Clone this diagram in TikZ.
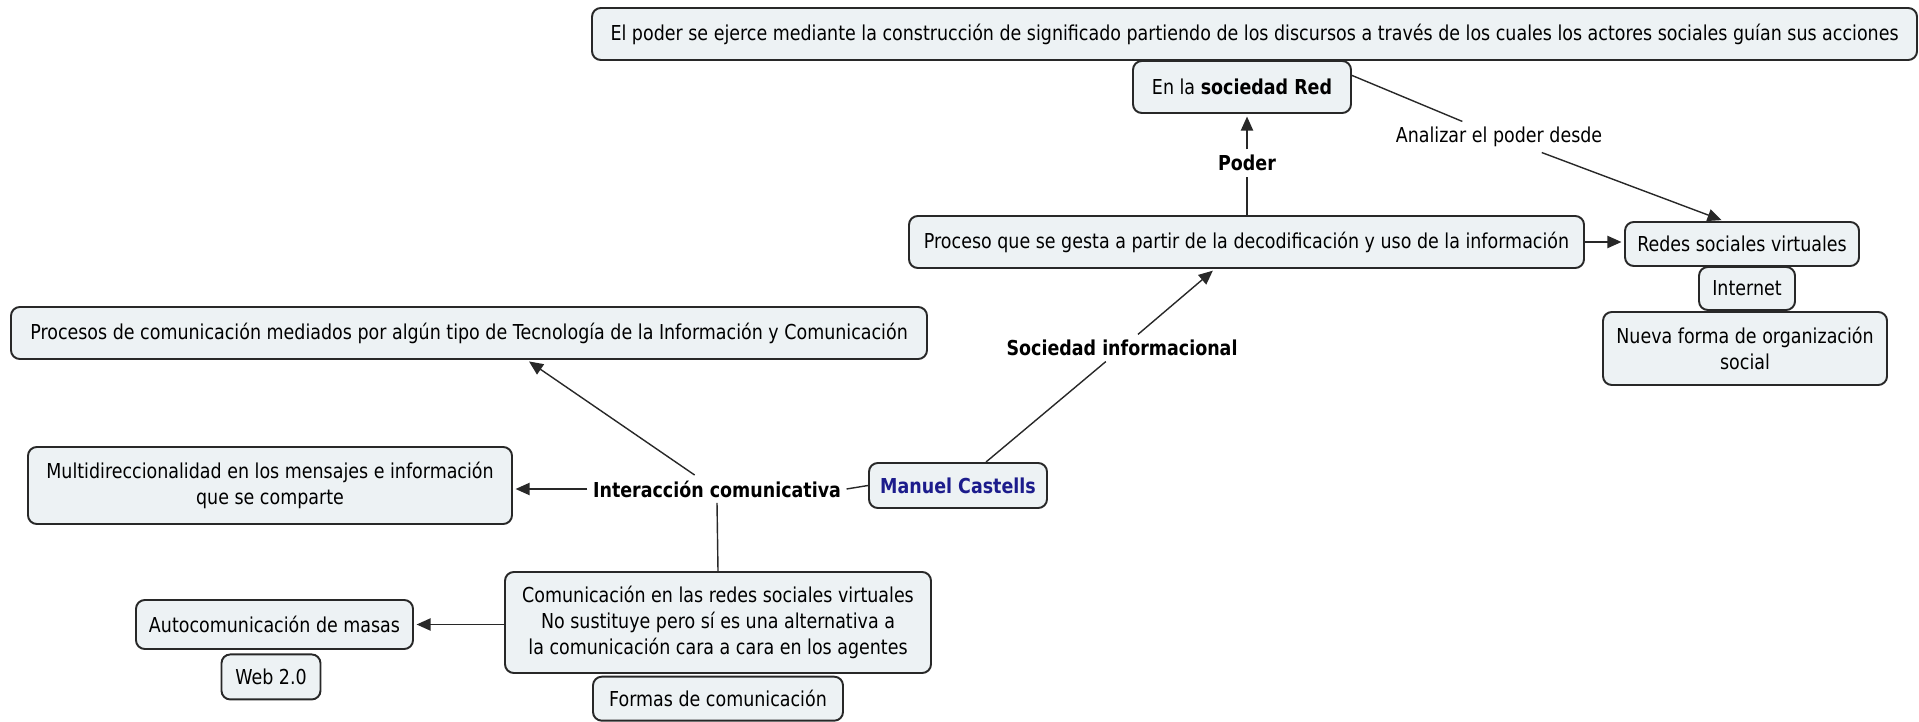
\documentclass[tikz,border=0pt]{standalone}
\usepackage{fontspec}
\setmainfont{DejaVu Sans}[FakeStretch=0.85]
\usetikzlibrary{positioning, fit}
\usetikzlibrary{calc}
\usetikzlibrary{arrows, arrows.meta}
\definecolor{fondo}{RGB}{237,242,244}
\definecolor{borde}{RGB}{40,40,40}
\definecolor{azul}{RGB}{28,28,140}
\tikzset{myarrow/.style={-{Triangle[length=8pt, width=7pt]}, shorten >=1.5pt}}
\tikzset{myline/.style={draw=borde, line width=0.8pt}}
\tikzset{texto/.style={font=\fontsize{11.7}{15}\selectfont}}
\tikzset{concepto/.style={texto, inner sep=0pt, draw=borde, line width=1.1pt, fill=fondo, rounded corners=5pt, align=center}}
\tikzset{caja/.style 2 args={minimum width=#1*0.02cm, minimum height=#2*0.02cm}}
\tikzset{etiqueta/.style={texto, inner sep=3pt}}

\begin{document}
\begin{tikzpicture}[x=0.02cm, y=-0.02cm]
		\useasboundingbox (0,0) rectangle (1919,722);
		
		% PODER
		\node[concepto, caja={1325}{52}] (ejerce) at (1254.5,34) {El poder se ejerce mediante la construcción de significado partiendo de los discursos a través de los cuales los actores sociales guían sus acciones};
		\node[concepto, caja={218}{52}] (red) at (1242,87) {En la \textbf{sociedad Red}};
		\node[concepto, caja={675}{52}] (proceso) at (1246.5,242) {Proceso que se gesta a partir de la decodificación y uso de la información};
		\node[etiqueta] (PoderText) at (1247,163) {\textbf{Poder}};
		
		\draw[myline]          (proceso.north -| PoderText) -- (PoderText);
		\draw[myline, myarrow] (PoderText) -- (PoderText |- red.south);
		
		% REDES
		\node[concepto, caja={234}{44}] (redes) at (1742,244) {Redes sociales virtuales};
		\node[concepto, caja={96}{43}] (internet) at (1747,288.5) {Internet};
		\node[concepto, caja={284}{73}] (nueva) at (1745,348.5) {Nueva forma de organización\\social};
		\node[etiqueta] (AnalizarText) at (1499,137) {Analizar el poder desde};
		
		\draw[myline]          (red.6) -- (AnalizarText.157);
		\draw[myline, myarrow] (AnalizarText.-20) -- (redes.128);
		\draw[myline, myarrow] (proceso.east) -- (proceso.east -| redes.west);
		
		% SOCIEDAD INFORMACIONAL
		\node[concepto, caja={178}{45}] (castells) at (958,485.5) {\textcolor{azul}{\textbf{Manuel Castells}}};
		\node[etiqueta] (SocText) at (1122,348) {\textbf{Sociedad informacional}};
		
		\draw[myline]          (castells) -- (SocText);
		\draw[myline, myarrow] (SocText) -- (proceso);
		
		% INTERACCION
		\node[concepto, caja={916}{52}] (tic) at (469,333) {Procesos de comunicación mediados por algún tipo de Tecnología de la Información y Comunicación};
		\node[concepto, caja={484}{77}] (multi) at (270,485.5) {Multidireccionalidad en los mensajes e información\\que se comparte};
		\node[etiqueta] (InterText) at (717,489) {\textbf{Interacción comunicativa}};
		\node[concepto, caja={426}{101}] (comred) at (718,622.5) {Comunicación en las redes sociales virtuales\\No sustituye pero sí es una alternativa a\\la comunicación cara a cara en los agentes};
		\node[concepto, caja={250}{44}, below=1pt of comred] (formas) {Formas de comunicación};
		\node[concepto, caja={277}{49}] (auto) at (274.5,624.5) {Autocomunicación de masas};
		\node[concepto, caja={99}{45}, below=2pt of auto, xshift=-2pt] (web) {Web 2.0};
		
		\draw[myline]          (castells.west) -- (InterText.east);
		\draw[myline, myarrow] (InterText.west) -- (InterText.west -| multi.east);
		\draw[myline, myarrow] (InterText.148) -- (tic.-25);
		\draw[myline]          (InterText.south) -- (comred.north);
		\draw[myline, myarrow] (comred.west |- auto.east) -- (auto.east);
		
	\end{tikzpicture}
\end{document}
